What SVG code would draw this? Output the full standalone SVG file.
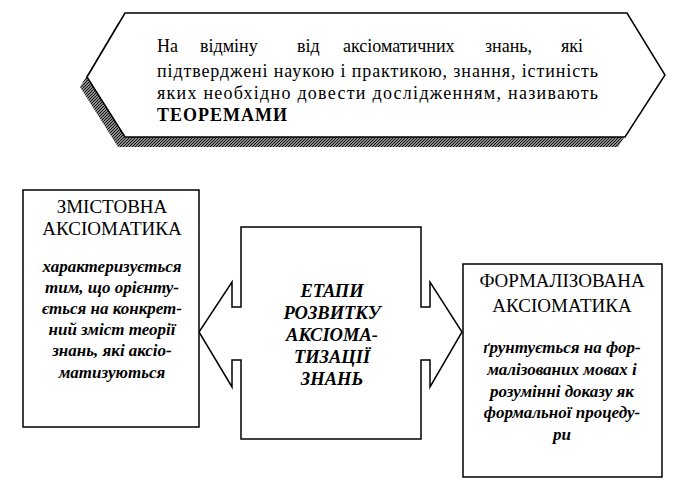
<svg xmlns="http://www.w3.org/2000/svg" width="695" height="498" viewBox="0 0 695 498">
<style>
.ln{fill:#fff;stroke:#000;stroke-width:1.5;stroke-linejoin:miter}
.t{font-family:"Liberation Serif","Times New Roman",serif;fill:#000}
.top{font-size:18px}
.hd{font-size:19px;text-anchor:middle}
.it{font-size:17px;font-style:italic;font-weight:bold;text-anchor:middle}
.ct{font-size:18.5px;font-style:italic;font-weight:bold;text-anchor:middle}
</style>
<defs>
<pattern id="hatch" width="3" height="3" patternUnits="userSpaceOnUse">
<rect width="3" height="3" fill="#8a8a8a"/>
<path d="M0,3 L3,0" stroke="#111" stroke-width="1"/>
</pattern>
</defs>
<rect width="695" height="498" fill="#fff"/>
<g id="theorem">
<polygon points="118,23 620,23 658,85 618,147 118,147 80,87" fill="url(#hatch)"/>
<polygon class="ln" points="125,13 627,13 665,75 625,137 125,137 87,77"/>
<text class="t top" y="52"><tspan x="157">На</tspan><tspan x="200">відміну</tspan><tspan x="297">від</tspan><tspan x="343">аксіоматичних</tspan><tspan x="485">знань,</tspan><tspan x="561">які</tspan></text>
<text class="t top" x="157" y="77" textLength="441" lengthAdjust="spacing">підтверджені наукою і практикою, знання, істиність</text>
<text class="t top" x="157" y="99" textLength="441" lengthAdjust="spacing">яких необхідно довести дослідженням, називають</text>
<text class="t top" x="157" y="121" font-weight="bold" textLength="130" lengthAdjust="spacing">ТЕОРЕМАМИ</text>
</g>
<g id="connectors">
<polygon id="stages" class="ln" points="241,227 421,227 421,307 430,307 430,282 462,332 430,387 430,360 421,360 421,439 241,439 241,360 232,360 232,387 199,332 232,282 232,307 241,307"/>
</g>
<g id="stages-text">
<text class="t ct" x="332" y="297">ЕТАПИ</text>
<text class="t ct" x="332" y="319">РОЗВИТКУ</text>
<text class="t ct" x="332" y="341">АКСІОМА-</text>
<text class="t ct" x="332" y="363">ТИЗАЦІЇ</text>
<text class="t ct" x="332" y="385">ЗНАНЬ</text>
</g>
<g id="content-axiomatics">
<rect class="ln" x="23" y="190" width="176" height="237"/>
<text class="t hd" x="112" y="213">ЗМІСТОВНА</text>
<text class="t hd" x="112" y="235">АКСІОМАТИКА</text>
<text class="t it" x="112" y="272">характеризується</text>
<text class="t it" x="112" y="293">тим, що орієнту-</text>
<text class="t it" x="112" y="314">ється на конкрет-</text>
<text class="t it" x="112" y="335">ний зміст теорії</text>
<text class="t it" x="112" y="356">знань, які аксіо-</text>
<text class="t it" x="112" y="378">матизуються</text>
</g>
<g id="formal-axiomatics">
<rect class="ln" x="463" y="264" width="199" height="213"/>
<text class="t hd" x="562" y="287">ФОРМАЛІЗОВАНА</text>
<text class="t hd" x="562" y="312">АКСІОМАТИКА</text>
<text class="t it" x="562" y="353">ґрунтується на фор-</text>
<text class="t it" x="562" y="375">малізованих мовах і</text>
<text class="t it" x="562" y="397">розумінні доказу як</text>
<text class="t it" x="562" y="418">формальної процеду-</text>
<text class="t it" x="562" y="440">ри</text>
</g>
</svg>
